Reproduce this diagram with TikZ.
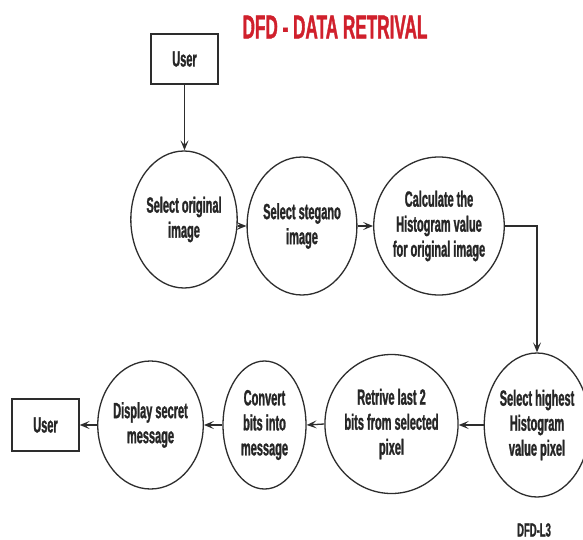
\documentclass[tikz,border=0pt]{standalone}
\usepackage{fontspec}
\newfontfamily\narrowbold[FakeStretch=0.5,FakeBold=1.2]{Liberation Sans Bold}
\newfontfamily\titlefont[FakeStretch=0.52,FakeBold=1]{Liberation Sans Bold}
\usetikzlibrary{shapes.geometric,arrows.meta}
\definecolor{titlered}{RGB}{208,32,44}
\definecolor{lineclr}{RGB}{45,45,45}
\tikzset{
  proc/.style={ellipse,draw=lineclr,line width=1.3pt,inner sep=0pt,align=center,
    font=\narrowbold\fontsize{22}{25}\selectfont,text=black!85},
  ent/.style={rectangle,draw=lineclr,line width=1.3pt,inner sep=0pt,align=center,
    font=\narrowbold\fontsize{22}{25}\selectfont,text=black!85},
  arr/.style={draw=lineclr,line width=1.3pt,-{Stealth[length=10pt,width=8pt,inset=4.5pt]}}
}
\begin{document}
\begin{tikzpicture}[x=1pt,y=-1pt]
\useasboundingbox (0,0) rectangle (583,540);
\fill[white] (0,0) rectangle (583,540);
\node[font=\titlefont\fontsize{33}{36}\selectfont,text=titlered] (title) at (335,27) {DFD - DATA RETRIVAL};
\node[ent,minimum width=67pt,minimum height=50pt] (user1) at (184.5,59) {User};
\node[proc,minimum width=90pt,minimum height=137pt] (p1) at (184,219.5) {Select original\\image};
\node[proc,minimum width=88pt,minimum height=138pt] (p2) at (302,226) {Select stegano\\image};
\node[proc,minimum width=126pt,minimum height=138pt] (p3) at (439,226) {Calculate the\\Histogram value\\for original image};
\node[proc,minimum width=104pt,minimum height=144pt] (p4) at (537,425) {Select highest\\Histogram\\value pixel};
\node[proc,minimum width=119pt,minimum height=139pt] (p5) at (391.5,424) {Retrive last 2\\bits from selected\\pixel};
\node[proc,minimum width=83pt,minimum height=128pt] (p6) at (264.5,425) {Convert\\bits into\\message};
\node[proc,minimum width=93pt,minimum height=128pt] (p7) at (150.5,425) {Display secret\\message};
\node[ent,minimum width=67pt,minimum height=52pt] (user2) at (45.5,425) {User};
\node[font=\narrowbold\fontsize{19}{22}\selectfont,text=black!85] (lvl) at (534,530) {DFD-L3};
\draw[arr] (user1.south) -- (user1.south |- p1.north);
\draw[arr] (p1.east |- p2.west) -- (p2.west);
\draw[arr] (p2.east) -- (p3.west);
\draw[arr] (p3.east) -| (p4.north);
\draw[arr] (p4.west) -- (p5.east |- p4.west);
\draw[arr] (p5.west) -- (p6.east);
\draw[arr] (p6.west) -- (p7.east);
\draw[arr] (p7.west) -- (user2.east);
\end{tikzpicture}
\end{document}
